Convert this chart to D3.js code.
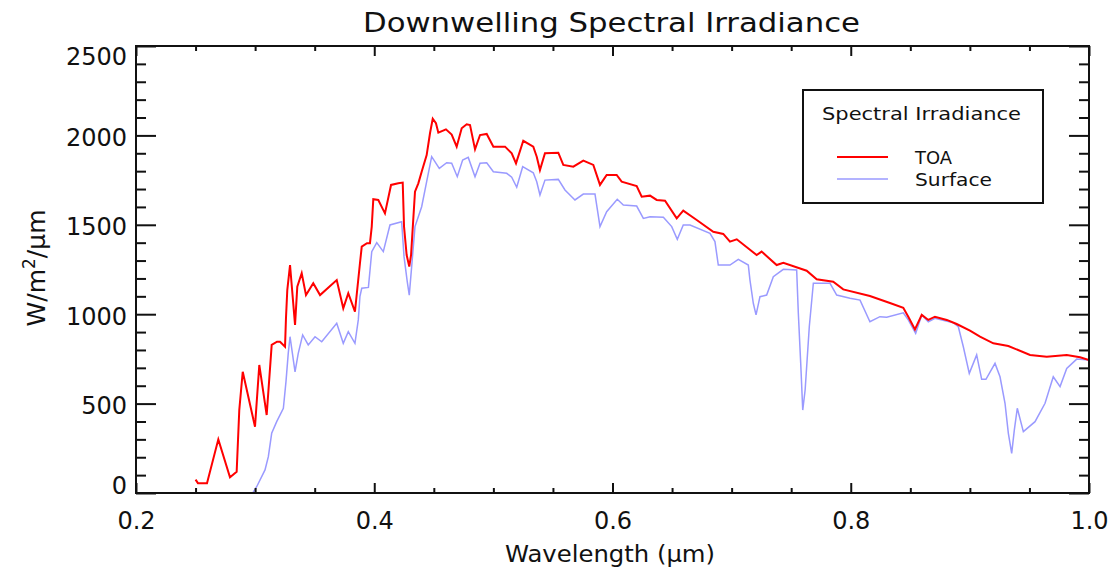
<!DOCTYPE html>
<html>
<head>
<meta charset="utf-8">
<script src="https://cdn.jsdelivr.net/npm/d3@7"></script>
<style>
  html, body { margin: 0; padding: 0; background: #fff; }
  svg { display: block; }
  text { font-family: "DejaVu Sans", "Liberation Sans", sans-serif; fill: #111; }
</style>
</head>
<body>
<svg id="chart" width="1110" height="571"></svg>
<script>
// ---------------- Data ----------------
const toaWavelength = [0.250,0.2520,0.2596,0.2691,0.2789,0.2845,0.2867,0.2896,0.2999,0.3035,0.3097,0.3125,0.3139,0.3184,0.3209,0.3251,0.3259,0.3270,0.3293,0.3335,0.3354,0.3391,0.3427,0.3488,0.3545,0.3685,0.3740,0.3782,0.3838,0.3880,0.3895,0.3939,0.3964,0.3979,0.3992,0.4034,0.4090,0.4141,0.4202,0.4239,0.4250,0.4272,0.4294,0.4309,0.4342,0.4370,0.4398,0.4440,0.4468,0.4491,0.4518,0.4538,0.4602,0.4650,0.4692,0.4734,0.4776,0.4804,0.4846,0.4888,0.4944,0.5000,0.5098,0.5154,0.5190,0.5251,0.5335,0.5364,0.5391,0.5433,0.5545,0.5587,0.5671,0.5755,0.5839,0.5895,0.5951,0.6035,0.6077,0.6203,0.6245,0.6315,0.6371,0.6441,0.6539,0.6594,0.6707,0.6846,0.6930,0.6986,0.7043,0.7210,0.7252,0.7378,0.7434,0.7630,0.7714,0.7853,0.7937,0.8161,0.8329,0.8441,0.8483,0.8539,0.8596,0.8651,0.8707,0.8806,0.8889,0.9001,0.9085,0.9197,0.9323,0.9505,0.9645,0.9813,0.9925,1.0];
const toaValues = [75,55,55,300,88,119,464,678,371,716,436,697,828,846,846,818,979,1135,1275,940,1154,1229,1107,1173,1107,1191,1033,1117,1014,1285,1378,1397,1397,1490,1643,1639,1564,1723,1732,1736,1490,1331,1266,1331,1685,1732,1797,1890,2012,2093,2068,2015,2034,2005,1937,2040,2062,2058,1922,2002,2008,1937,1937,1900,1844,1970,1937,1881,1806,1900,1903,1835,1825,1859,1835,1723,1779,1779,1741,1717,1657,1663,1639,1635,1536,1579,1527,1461,1449,1406,1419,1331,1350,1275,1288,1243,1195,1182,1139,1102,1063,1036,986,915,996,968,986,968,945,908,874,837,822,772,762,772,759,744];

const surfaceWavelength = [0.250,0.2980,0.3013,0.3083,0.3111,0.3139,0.3181,0.3237,0.3259,0.3278,0.3293,0.3335,0.3362,0.3399,0.3446,0.3503,0.3559,0.3685,0.3740,0.3782,0.3838,0.3866,0.3880,0.3895,0.3951,0.3979,0.4021,0.4076,0.4132,0.4230,0.4250,0.4277,0.4294,0.4314,0.4342,0.4398,0.4440,0.4482,0.4546,0.4608,0.4650,0.4697,0.4742,0.4789,0.4846,0.4888,0.4944,0.5000,0.5112,0.5154,0.5196,0.5246,0.5335,0.5364,0.5391,0.5433,0.5545,0.5601,0.5685,0.5755,0.5853,0.5895,0.5951,0.6040,0.6091,0.6203,0.6259,0.6315,0.6427,0.6497,0.6544,0.6594,0.6651,0.6818,0.6860,0.6888,0.6986,0.7056,0.7140,0.7154,0.7182,0.7205,0.7238,0.7294,0.7350,0.7434,0.7546,0.7560,0.7580,0.7597,0.7617,0.7652,0.7686,0.7826,0.7882,0.7994,0.8078,0.8161,0.8245,0.8302,0.8441,0.8483,0.8545,0.8596,0.8651,0.8707,0.8861,0.8903,0.8945,0.8995,0.9057,0.9099,0.9135,0.9211,0.9253,0.9295,0.9323,0.9351,0.9373,0.9398,0.9449,0.9547,0.9631,0.9700,0.9757,0.9813,0.9897,1.0];
const surfaceValues = [0,0,35,129,203,334,399,474,623,781,874,678,781,884,828,874,846,949,837,902,837,968,1100,1145,1150,1350,1400,1350,1499,1517,1322,1182,1107,1266,1490,1601,1741,1881,1816,1847,1844,1769,1862,1877,1769,1844,1847,1797,1788,1766,1710,1825,1791,1741,1667,1750,1754,1695,1639,1672,1672,1490,1573,1643,1611,1605,1536,1545,1542,1490,1419,1499,1499,1452,1406,1275,1275,1307,1275,1191,1061,996,1098,1107,1210,1251,1247,1005,725,464,576,930,1173,1173,1107,1089,1079,958,986,983,1008,968,893,996,958,977,952,930,818,669,772,636,636,725,650,502,334,222,352,474,343,399,502,650,595,697,749,744];

const xMajorTicks = [0.2, 0.4, 0.6, 0.8, 1.0];
const xMinorTicks = [0.25,0.3,0.35,0.45,0.5,0.55,0.65,0.7,0.75,0.85,0.9,0.95];
const yMajorTicks = [0, 500, 1000, 1500, 2000, 2500];
const yMinorTicks = [100,200,300,400,600,700,800,900,1100,1200,1300,1400,1600,1700,1800,1900,2100,2200,2300,2400];
const seriesNames = ["TOA", "Surface"];
const seriesColors = ["#ff0000", "#9a9aff"];

// ---------------- Layout ----------------
const L = 136, R = 1089, T = 46, B = 493;
const svg = d3.select("#chart");
const x = d3.scaleLinear().domain([0.2, 1.0]).range([L, R]);
const y = d3.scaleLinear().domain([0, 2500]).range([B, T]);

svg.append("defs").append("clipPath").attr("id", "plotclip")
  .append("rect").attr("x", L).attr("y", T - 2).attr("width", R - L).attr("height", B - T + 4);

const line = d3.line().x(d => x(d[0])).y(d => y(d[1]));
const toaData = toaWavelength.map((w, i) => [w, toaValues[i]]);
const surfData = surfaceWavelength.map((w, i) => [w, surfaceValues[i]]);
const g = svg.append("g").attr("clip-path", "url(#plotclip)");
g.append("path").datum(surfData).attr("d", line)
  .attr("fill", "none").attr("stroke", seriesColors[1]).attr("stroke-width", 1.5);
g.append("path").datum(toaData).attr("d", line)
  .attr("fill", "none").attr("stroke", seriesColors[0]).attr("stroke-width", 2);

function styleAxis(sel) {
  sel.select(".domain").remove();
  sel.selectAll(".tick line").attr("stroke", "#111").attr("stroke-width", 2);
  sel.selectAll("text").style("font-size", "24px").attr("fill", "#111")
    .style("font-family", '"DejaVu Sans", sans-serif');
}
const bottomMajor = svg.append("g").attr("transform", `translate(0,${B})`)
  .call(d3.axisBottom(x).tickValues(xMajorTicks).tickSizeInner(-10).tickSizeOuter(0)
    .tickPadding(19).tickFormat(d3.format(".1f")));
styleAxis(bottomMajor);
const bottomMinor = svg.append("g").attr("transform", `translate(0,${B})`)
  .call(d3.axisBottom(x).tickValues(xMinorTicks).tickSizeInner(-5).tickSizeOuter(0).tickFormat(""));
styleAxis(bottomMinor);
const topMajor = svg.append("g").attr("transform", `translate(0,${T})`)
  .call(d3.axisTop(x).tickValues(xMajorTicks).tickSizeInner(-10).tickSizeOuter(0).tickFormat(""));
styleAxis(topMajor);
const topMinor = svg.append("g").attr("transform", `translate(0,${T})`)
  .call(d3.axisTop(x).tickValues(xMinorTicks).tickSizeInner(-5).tickSizeOuter(0).tickFormat(""));
styleAxis(topMinor);
const leftMajor = svg.append("g").attr("transform", `translate(${L},0)`)
  .call(d3.axisLeft(y).tickValues(yMajorTicks).tickSizeInner(-20).tickSizeOuter(0)
    .tickPadding(9).tickFormat(d3.format("d")));
styleAxis(leftMajor);
leftMajor.selectAll(".tick text").attr("dy", null).attr("dominant-baseline", "central")
  .attr("y", d => {
    const py = y(d) + 2;
    const c = Math.max(T + 10, Math.min(B - 8, py));
    return c - y(d);
  });
const leftMinor = svg.append("g").attr("transform", `translate(${L},0)`)
  .call(d3.axisLeft(y).tickValues(yMinorTicks).tickSizeInner(-10).tickSizeOuter(0).tickFormat(""));
styleAxis(leftMinor);
const rightMajor = svg.append("g").attr("transform", `translate(${R},0)`)
  .call(d3.axisRight(y).tickValues(yMajorTicks).tickSizeInner(-20).tickSizeOuter(0).tickFormat(""));
styleAxis(rightMajor);
const rightMinor = svg.append("g").attr("transform", `translate(${R},0)`)
  .call(d3.axisRight(y).tickValues(yMinorTicks).tickSizeInner(-10).tickSizeOuter(0).tickFormat(""));
styleAxis(rightMinor);

svg.append("rect").attr("x", L).attr("y", T).attr("width", R - L).attr("height", B - T)
  .attr("fill", "none").attr("stroke", "#111").attr("stroke-width", 2);

svg.append("text").attr("x", 611.5).attr("y", 32).attr("text-anchor", "middle")
  .attr("textLength", 497).attr("lengthAdjust", "spacingAndGlyphs")
  .style("font-size", "26px").text("Downwelling Spectral Irradiance");

svg.append("text").attr("x", 610).attr("y", 562).attr("text-anchor", "middle")
  .attr("textLength", 210).attr("lengthAdjust", "spacingAndGlyphs")
  .style("font-size", "23px").text("Wavelength (\u00b5m)");

const yl = svg.append("text").attr("transform", "translate(45,268) rotate(-90)")
  .attr("text-anchor", "middle").style("font-size", "25px");
yl.append("tspan").text("W/m");
yl.append("tspan").attr("dy", -10).style("font-size", "17px").text("2");
yl.append("tspan").attr("dy", 10).text("/\u00b5m");

const lg = svg.append("g");
lg.append("rect").attr("x", 803).attr("y", 90).attr("width", 240).attr("height", 113)
  .attr("fill", "#fff").attr("stroke", "#111").attr("stroke-width", 2);
lg.append("text").attr("x", 822).attr("y", 120).attr("textLength", 199)
  .attr("lengthAdjust", "spacingAndGlyphs").style("font-size", "18px").text("Spectral Irradiance");
const legendY = [157, 179];
const legendTextLen = [37, 77];
seriesNames.forEach((name, i) => {
  lg.append("line").attr("x1", 837).attr("x2", 888).attr("y1", legendY[i]).attr("y2", legendY[i])
    .attr("stroke", seriesColors[i]).attr("stroke-width", i === 0 ? 2 : 1.5);
  lg.append("text").attr("x", 915).attr("y", legendY[i] + 7)
    .attr("textLength", legendTextLen[i]).attr("lengthAdjust", "spacingAndGlyphs")
    .style("font-size", "17px").text(name);
});
</script>
</body>
</html>
